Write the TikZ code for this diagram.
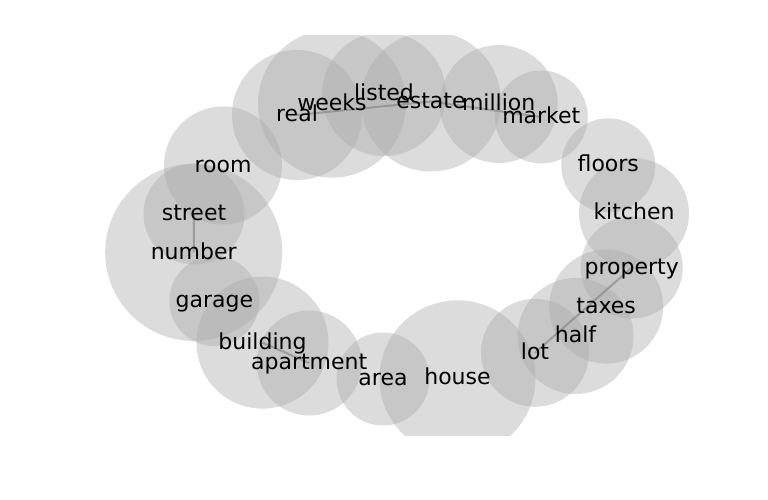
\documentclass[tikz,border=0pt]{standalone}
\usepackage{fontspec}
\setmainfont{DejaVu Sans}
\begin{document}
\begin{tikzpicture}[x=1pt,y=-1pt,
  bub/.style={circle,inner sep=0pt,draw=none,fill=bubgray,fill opacity=0.41},
  lbl/.style={inner sep=0pt,text height=17.6pt,text depth=4.4pt,font=\fontsize{22pt}{24pt}\selectfont,text=black},
  edge/.style={draw=edgegray,line width=2pt,draw opacity=0.6}]
\definecolor{bubgray}{RGB}{170,170,170}
\definecolor{edgegray}{RGB}{128,128,128}
\fill[white] (0,0) rectangle (768,500);
\useasboundingbox (0,0) rectangle (768,500);
\begin{scope}
\clip (0,36) rectangle (768,435);
\node[bub,minimum size=130pt] (b-real) at (297,115) {};
\node[bub,minimum size=148pt] (b-weeks) at (332,103.6) {};
\node[bub,minimum size=124pt] (b-listed) at (384,94) {};
\node[bub,minimum size=140pt] (b-estate) at (431,101.5) {};
\node[bub,minimum size=118pt] (b-million) at (498.7,104) {};
\node[bub,minimum size=93pt] (b-market) at (541.3,117) {};
\node[bub,minimum size=94pt] (b-floors) at (608.3,165.3) {};
\node[bub,minimum size=110pt] (b-kitchen) at (634,213.3) {};
\node[bub,minimum size=102pt] (b-property) at (631.7,267.6) {};
\node[bub,minimum size=114pt] (b-taxes) at (606.2,306.6) {};
\node[bub,minimum size=116pt] (b-half) at (575.5,336) {};
\node[bub,minimum size=108pt] (b-lot) at (535,352.8) {};
\node[bub,minimum size=156pt] (b-house) at (457.5,378.3) {};
\node[bub,minimum size=93pt] (b-area) at (383,379) {};
\node[bub,minimum size=105pt] (b-apartment) at (309.2,363) {};
\node[bub,minimum size=132pt] (b-building) at (262.5,342.6) {};
\node[bub,minimum size=90pt] (b-garage) at (214.3,301) {};
\node[bub,minimum size=177pt] (b-number) at (193.7,252.4) {};
\node[bub,minimum size=101pt] (b-street) at (194,214) {};
\node[bub,minimum size=118pt] (b-room) at (223,165.5) {};
\end{scope}
\draw[edge] (b-real.center) -- (b-estate.center);
\draw[edge] (b-estate.center) -- (b-market.center);
\draw[edge] (b-street.center) -- (b-number.center);
\draw[edge] (b-building.center) -- (b-apartment.center);
\draw[edge] (b-property.center) -- (b-lot.center);
\node[lbl] (real) at (b-real.center) {real};
\node[lbl] (weeks) at (b-weeks.center) {weeks};
\node[lbl] (listed) at (b-listed.center) {listed};
\node[lbl] (estate) at (b-estate.center) {estate};
\node[lbl] (million) at (b-million.center) {million};
\node[lbl] (market) at (b-market.center) {market};
\node[lbl] (floors) at (b-floors.center) {floors};
\node[lbl] (kitchen) at (b-kitchen.center) {kitchen};
\node[lbl] (property) at (b-property.center) {property};
\node[lbl] (taxes) at (b-taxes.center) {taxes};
\node[lbl] (half) at (b-half.center) {half};
\node[lbl] (lot) at (b-lot.center) {lot};
\node[lbl] (house) at (b-house.center) {house};
\node[lbl] (area) at (b-area.center) {area};
\node[lbl] (apartment) at (b-apartment.center) {apartment};
\node[lbl] (building) at (b-building.center) {building};
\node[lbl] (garage) at (b-garage.center) {garage};
\node[lbl] (number) at (b-number.center) {number};
\node[lbl] (street) at (b-street.center) {street};
\node[lbl] (room) at (b-room.center) {room};
\end{tikzpicture}
\end{document}
